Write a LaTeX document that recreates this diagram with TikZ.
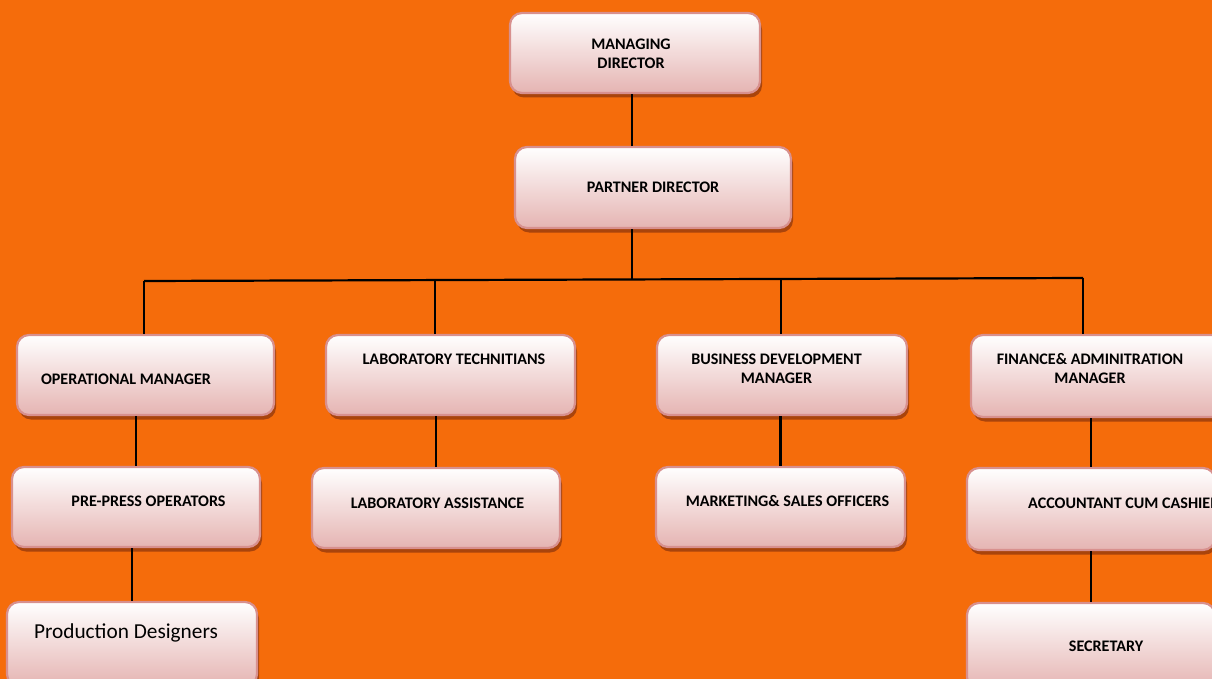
\documentclass[tikz,border=0pt]{standalone}
\usepackage{fontspec}
\setmainfont{Carlito}
\usetikzlibrary{shadows}
\definecolor{bgorange}{HTML}{F56C0B}
\definecolor{boxborder}{HTML}{D8908E}
\definecolor{boxbottom}{HTML}{E5B4B2}
\definecolor{shadowcol}{HTML}{A9440C}
\tikzset{
  orgbox/.style={rectangle, rounded corners=12pt, draw=boxborder, line width=2.2pt,
    top color=white, bottom color=boxbottom, inner sep=0pt,
    drop shadow={shadow xshift=2pt, shadow yshift=-4.5pt, fill=shadowcol, opacity=1}},
  lbl/.style={inner sep=0pt, align=center, font=\bfseries\fontsize{16.1}{19}\selectfont},
  conn/.style={draw=black, line width=2.2pt}
}
\begin{document}
\begin{tikzpicture}[x=1pt,y=-1pt]
\clip (0,0) rectangle (1212,679);
\fill[bgorange] (0,0) rectangle (1212,679);
% junction coordinates
\coordinate (t) at (632,279);
\coordinate (b1) at (144,281);
\coordinate (b2) at (435,280);
\coordinate (b3) at (781,279);
\coordinate (b4) at (1083,278);
% boxes
\node[orgbox, minimum width=250pt, minimum height=80pt] (md) at (635,53) {};
\node[orgbox, minimum width=276pt, minimum height=81pt] (pd) at (653,187.5) {};
\node[orgbox, minimum width=257pt, minimum height=80pt] (om) at (145.5,375) {};
\node[orgbox, minimum width=249pt, minimum height=80pt] (lt) at (450.5,375) {};
\node[orgbox, minimum width=250pt, minimum height=80pt] (bd) at (782,375) {};
\node[orgbox, minimum width=254pt, minimum height=82pt] (fa) at (1098,376) {};
\node[orgbox, minimum width=248pt, minimum height=80pt] (pp) at (136,507) {};
\node[orgbox, minimum width=248pt, minimum height=80pt] (la) at (436,508) {};
\node[orgbox, minimum width=249pt, minimum height=80pt] (ms) at (780.5,507) {};
\node[orgbox, minimum width=248pt, minimum height=82pt] (ac) at (1091,509) {};
\node[orgbox, minimum width=248pt, minimum height=86pt] (se) at (1091,646) {};
\node[orgbox, minimum width=250pt, minimum height=84pt] (prd) at (132,644) {};
% texts
\node[lbl] (mdt) at (631,53.5) {MANAGING\\DIRECTOR};
\node[lbl] (pdt) at (653,187) {PARTNER DIRECTOR};
\node[lbl] (omt) at (126,379) {OPERATIONAL MANAGER};
\node[lbl] (ltt) at (454,359) {LABORATORY TECHNITIANS};
\node[lbl] (bdt) at (776.5,368.5) {BUSINESS DEVELOPMENT\\MANAGER};
\node[lbl] (fat) at (1090,368.5) {FINANCE\& ADMINITRATION\\MANAGER};
\node[lbl] (ppt) at (148.5,501) {PRE-PRESS OPERATORS};
\node[lbl] (lat) at (437.5,503) {LABORATORY ASSISTANCE};
\node[lbl] (mst) at (787.5,501) {MARKETING\& SALES OFFICERS};
\node[lbl, anchor=west] (act) at (1028,503) {ACCOUNTANT CUM CASHIER};
\node[lbl] (set) at (1106,646) {SECRETARY};
\node[inner sep=0pt, font=\fontsize{21.3}{25}\selectfont] (prdt) at (126,633) {Production Designers};
% connectors
\draw[conn] (t |- md.south) -- (t |- pd.north);
\draw[conn] (t |- pd.south) -- (t);
\draw[conn] (b1) -- (b4);
\draw[conn] (b1) -- (b1 |- om.north);
\draw[conn] (b2) -- (b2 |- lt.north);
\draw[conn] (b3) -- (b3 |- bd.north);
\draw[conn] (b4) -- (b4 |- fa.north);
\draw[conn] (pp.north) -- (pp.north |- om.south);
\draw[conn] (la.north) -- (la.north |- lt.south);
\draw[conn] (ms.north) -- (ms.north |- bd.south);
\draw[conn] (ac.north) -- (ac.north |- fa.south);
\draw[conn] (se.north) -- (se.north |- ac.south);
\draw[conn] (prd.north) -- (prd.north |- pp.south);
\end{tikzpicture}
\end{document}
